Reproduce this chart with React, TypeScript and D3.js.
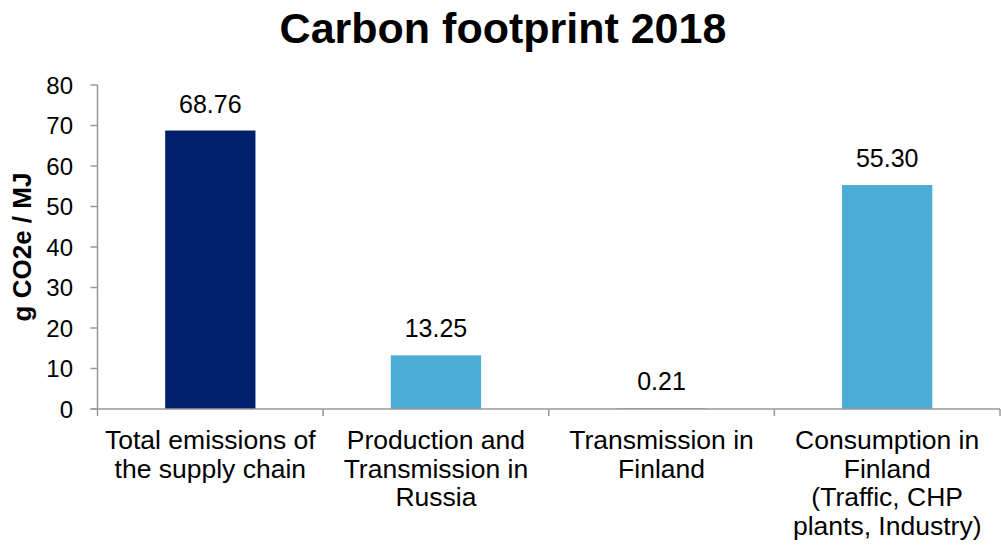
import React from "react";
import * as d3 from "d3";

const categories = [
  ["Total emissions of", "the supply chain"],
  ["Production and", "Transmission in", "Russia"],
  ["Transmission in", "Finland"],
  ["Consumption in", "Finland", "(Traffic, CHP", "plants, Industry)"],
];
const values = [68.76, 13.25, 0.21, 55.3];
const barColors = ["#001f6b", "#4bacd6", "#7fa7bd", "#4bacd6"];
const yTicks = [0, 10, 20, 30, 40, 50, 60, 70, 80];

const width = 1001;
const height = 550;
const margin = { top: 85, right: 1, bottom: 141, left: 97.5 };
const font = "'Liberation Sans', Arial, sans-serif";

const App = () => {
  const x = d3
    .scaleBand<number>()
    .domain(values.map((_, i) => i))
    .range([margin.left, width - margin.right]);
  const bandW = x.bandwidth();
  const barW = bandW * 0.4;
  const boundaries = d3.range(values.length + 1).map((i) => margin.left + i * bandW);

  const y = d3.scaleLinear().domain([0, 80]).range([height - margin.bottom, margin.top]);
  const base = y(0);

  return (
    <svg
      width={width}
      height={height}
      style={{ position: "absolute", left: 0, top: 0, background: "#fff" }}
      fontFamily={font}
    >
      <text x={503} y={43} textAnchor="middle" fontSize={43} fontWeight="bold" fill="#000">
        Carbon footprint 2018
      </text>
      <text
        transform={`translate(31,${(y(0) + y(80)) / 2}) rotate(-90)`}
        textAnchor="middle"
        fontSize={26}
        fontWeight="bold"
      >
        g CO2e / MJ
      </text>

      {values.map((v, i) => {
        const cx = (x(i) as number) + bandW / 2;
        return (
          <g key={i}>
            <rect x={cx - barW / 2} y={y(v)} width={barW} height={base - y(v)} fill={barColors[i]} />
            <text x={cx} y={y(v) - 18} textAnchor="middle" fontSize={25} fill="#000">
              {v.toFixed(2)}
            </text>
          </g>
        );
      })}

      {/* y axis */}
      <line x1={margin.left} x2={margin.left} y1={y(80)} y2={base} stroke="#999" strokeWidth={1.5} />
      {yTicks.map((t) => (
        <g key={t}>
          <line x1={margin.left - 7} x2={margin.left} y1={y(t)} y2={y(t)} stroke="#999" strokeWidth={1.5} />
          <text x={73} y={y(t)} dy="0.36em" textAnchor="end" fontSize={24} fill="#000">
            {t}
          </text>
        </g>
      ))}

      {/* x axis */}
      <line x1={margin.left - 7} x2={width - margin.right} y1={base} y2={base} stroke="#999" strokeWidth={1.5} />
      {boundaries.map((bx, i) => (
        <line key={i} x1={bx} x2={bx} y1={base} y2={base + 7} stroke="#999" strokeWidth={1.5} />
      ))}
      {categories.map((lines, i) => {
        const cx = (x(i) as number) + bandW / 2;
        return (
          <text key={i} x={cx} y={449} textAnchor="middle" fontSize={26.5} fill="#000">
            {lines.map((l, j) => (
              <tspan key={j} x={cx} dy={j === 0 ? 0 : 28.7}>
                {l}
              </tspan>
            ))}
          </text>
        );
      })}
    </svg>
  );
};

export default App;
